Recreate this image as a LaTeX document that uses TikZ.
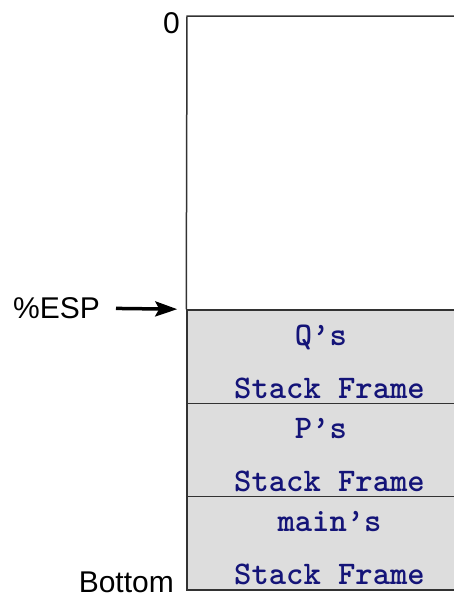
\documentclass[tikz,border=0pt]{standalone}
\usepackage{fontspec}
\setmainfont{Liberation Sans}
\usetikzlibrary{arrows.meta,positioning}
\definecolor{framegray}{RGB}{221,221,221}
\definecolor{framenavy}{RGB}{20,20,120}
\definecolor{edgegray}{RGB}{50,50,50}
\tikzset{
	x=1pt, y=-1pt,
	frame/.style={draw=edgegray, line width=1.5pt, fill=framegray,
		minimum width=285pt, minimum height=93.3pt, inner sep=0pt},
	frametext/.style={align=center, text=framenavy, inner sep=0pt,
		font=\fontsize{33}{53}\selectfont\ttfamily\bfseries},
	lbl/.style={inner sep=0pt, font=\fontsize{30}{36}\selectfont},
	ptr/.style={line width=3.5pt, -{Stealth[length=22pt,width=15pt,inset=4pt]}},
}

\begin{document}
\begin{tikzpicture}
		\clip (0,0) rectangle (454,597);

		% stack frames
		\node[frame] (qframe) at (329.5,356.7) {};
		\node[frame] (pframe) at (329.5,450) {};
		\node[frame] (mainframe) at (329.5,543.3) {};
		\node[frametext] (qtext) at ([yshift=-5pt]qframe.center) {Q’s\hphantom{s}\\Stack Frame};
		\node[frametext] (ptext) at ([yshift=-5pt]pframe.center) {P’s\hphantom{s}\\Stack Frame};
		\node[frametext] (maintext) at ([yshift=-5pt]mainframe.center) {main’s\\Stack Frame};

		% empty part of the stack
		\coordinate (stacktop) at (187,16);
		\coordinate (topend) at (472,16);
		\draw[edgegray, line width=1.5pt] (qframe.north west) -- (stacktop) -- (topend);

		% labels
		\node[lbl, anchor=base east] (zero) at (180,33) {0};
		\node[lbl, anchor=base east] (esp) at (100,318) {\%ESP};
		\node[lbl, anchor=base east] (bottom) at (174,592) {Bottom};

		\draw[ptr] (esp) edge[shorten <=16pt, shorten >=9pt] (qframe.north west);
	\end{tikzpicture}
\end{document}
